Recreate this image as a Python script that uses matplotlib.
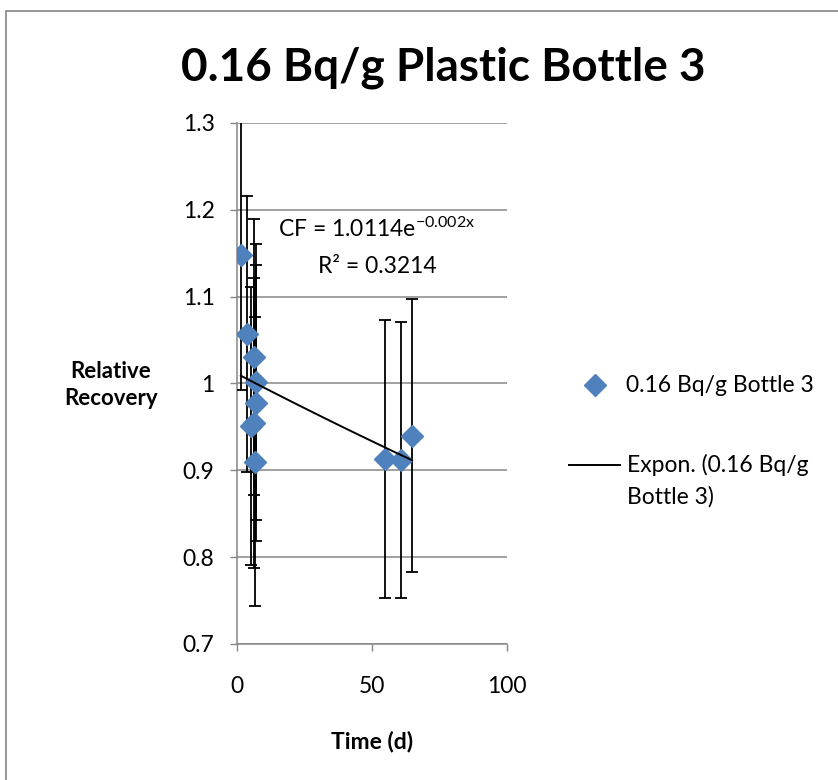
import numpy as np
import matplotlib
matplotlib.use("Agg")
import matplotlib.pyplot as plt
from matplotlib.lines import Line2D
from matplotlib.patches import Rectangle

# Measurements: storage time (days), relative recovery and its uncertainty
days = [1.5, 3.7, 6.4, 7.0, 7.0, 5.2, 6.3, 6.9, 54.8, 60.7, 64.9]
recovery = [1.148, 1.057, 1.030, 1.002, 0.977, 0.951, 0.954, 0.910, 0.913, 0.912, 0.940]
uncertainty = [0.156, 0.159, 0.159, 0.159, 0.159, 0.160, 0.167, 0.166, 0.160, 0.159, 0.157]

title = "0.16 Bq/g Plastic Bottle 3"
series_label = "0.16 Bq/g Bottle 3"
trend_label_1 = "Expon. (0.16 Bq/g"
trend_label_2 = "Bottle 3)"
equation = "CF = 1.0114e$^{\\mathrm{-0.002x}}$"
r_squared = "R² = 0.3214"
xticks = [0, 50, 100]
yticks = [0.7, 0.8, 0.9, 1.0, 1.1, 1.2, 1.3]
ytick_labels = ["0.7", "0.8", "0.9", "1", "1.1", "1.2", "1.3"]

plt.rcParams["font.family"] = ["Lato", "DejaVu Sans"]
plt.rcParams["mathtext.fontset"] = "custom"
plt.rcParams["mathtext.rm"] = "Lato"
plt.rcParams["mathtext.it"] = "Lato:italic"

GRID = "#868686"
BLUE = "#4F81BD"
FS = 16.5

fig = plt.figure(figsize=(8.38, 7.8), dpi=100)
ax = fig.add_axes([0.2825, 0.1744, 0.3225, 0.668])

x = np.array(days)
y = np.array(recovery)

ax.errorbar(x, y, yerr=uncertainty, fmt="none", ecolor="black",
            elinewidth=1.3, capsize=4.3, capthick=1.3, zorder=3)
ax.plot(x, y, linestyle="none", marker="D", markersize=11,
        color=BLUE, markeredgecolor=BLUE, zorder=4)

# exponential trendline: least-squares fit of ln(y) against x
b, ln_a = np.polyfit(x, np.log(y), 1)
xt = np.linspace(x.min(), x.max(), 100)
ax.plot(xt, np.exp(ln_a) * np.exp(b * xt), color="black", lw=1.4, zorder=5)

ax.set_xlim(0, 100)
ax.set_ylim(0.7, 1.3)
ax.set_xticks(xticks)
ax.set_yticks(yticks)
ax.set_yticklabels(ytick_labels)
ax.tick_params(axis="both", direction="out", length=5, width=1, color=GRID,
               labelsize=FS)
ax.tick_params(axis="x", pad=18)
ax.tick_params(axis="y", pad=11)
ax.grid(axis="y", color=GRID, lw=1.1)
ax.set_axisbelow(True)
for s in ("top", "right"):
    ax.spines[s].set_visible(False)
for s in ("left", "bottom"):
    ax.spines[s].set_color(GRID)
    ax.spines[s].set_linewidth(1.1)

ax.text(51.9, 1.178, equation, ha="center", va="center", fontsize=FS)
ax.text(51.9, 1.135, r_squared, ha="center", va="center", fontsize=FS)

fig.text(443 / 838, 1 - 68 / 780, title, ha="center", va="center",
         fontsize=33, fontweight="bold")
fig.text(111 / 838, 1 - 385 / 780, "Relative\nRecovery", ha="center",
         va="center", fontsize=16, fontweight="bold", linespacing=1.35)
fig.text(372 / 838, 1 - 741 / 780, "Time (d)", ha="center", va="center",
         fontsize=16.5, fontweight="bold")

# legend entries
fig.add_artist(Line2D([595 / 838], [1 - 385 / 780], marker="D", markersize=11,
                      color=BLUE, linestyle="none"))
fig.text(626 / 838, 1 - 385 / 780, series_label, ha="left", va="center",
         fontsize=FS)
fig.add_artist(Line2D([569 / 838, 620 / 838], [1 - 465 / 780, 1 - 465 / 780],
                      color="black", lw=1.4))
fig.text(627 / 838, 1 - 465 / 780, trend_label_1, ha="left", va="center",
         fontsize=FS)
fig.text(627 / 838, 1 - 497 / 780, trend_label_2, ha="left", va="center",
         fontsize=FS)

# chart frame
fig.add_artist(Rectangle((6 / 838, -0.1), 1.2, 0.1 + (1 - 11 / 780),
                         transform=fig.transFigure, fill=False,
                         edgecolor=GRID, lw=1.2))

fig.savefig("out.png", dpi=100)
